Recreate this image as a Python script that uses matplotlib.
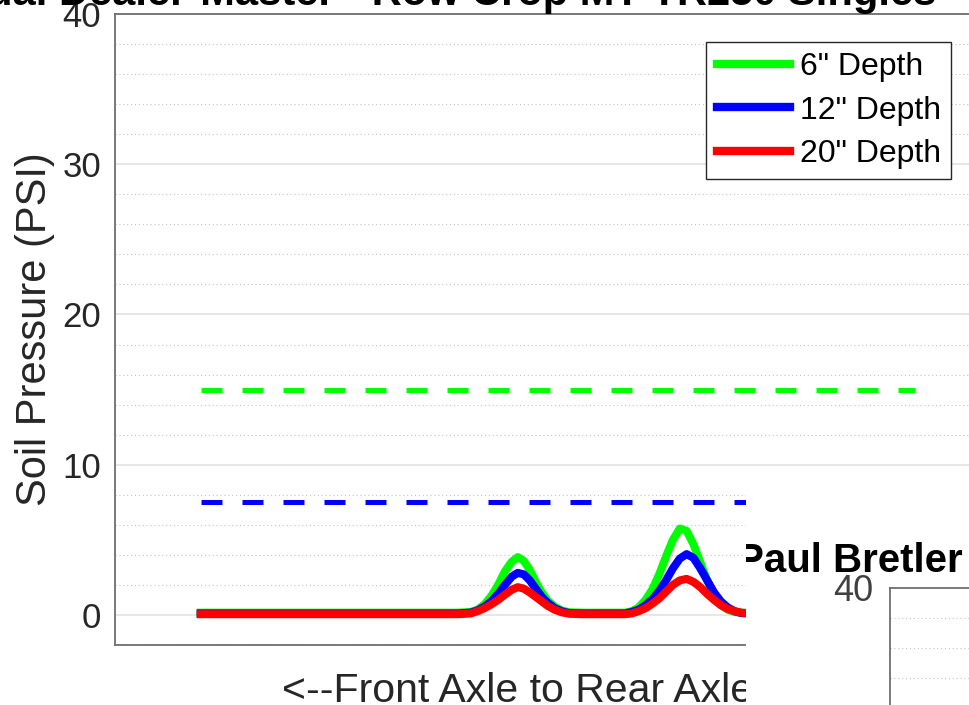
import matplotlib.pyplot as plt
from matplotlib.ticker import MultipleLocator

plt.rcParams['font.family'] = ['Liberation Sans', 'DejaVu Sans']

# Posición a lo largo de la máquina (eje delantero -> trasero)
pos = [10, 20, 30, 40, 41.5, 42.3, 43.1, 43.9, 44.7, 45.5, 46.3, 47.0, 47.7, 48.4,
       49.1, 49.8, 50.5, 51.3, 52.1, 53.0, 54.5, 57, 59.5, 60.3, 61.1, 61.9, 62.7,
       63.5, 64.3, 65.1, 65.9, 66.7, 67.5, 68.3, 69.1, 69.9, 70.7, 71.5, 72.3, 73.1, 74]

# Presión del suelo (PSI) por profundidad
p6 = [0.15, 0.15, 0.15, 0.15, 0.2, 0.35, 0.7, 1.25, 2.0, 2.9, 3.55, 3.85, 3.6, 3.0,
      2.2, 1.5, 0.95, 0.55, 0.3, 0.18, 0.15, 0.15, 0.15, 0.25, 0.5, 1.0, 1.7,
      2.7, 3.9, 5.0, 5.75, 5.6, 4.7, 3.5, 2.3, 1.3, 0.65, 0.35, 0.2, 0.15, 0.15]
p12 = [0.1, 0.1, 0.1, 0.1, 0.15, 0.3, 0.55, 0.9, 1.4, 2.0, 2.55, 2.8, 2.7, 2.3,
       1.75, 1.2, 0.8, 0.45, 0.25, 0.12, 0.1, 0.1, 0.1, 0.2, 0.35, 0.65, 1.05,
       1.6, 2.3, 3.1, 3.75, 4.05, 3.8, 3.1, 2.3, 1.5, 0.9, 0.5, 0.25, 0.12, 0.1]
p20 = [0.05, 0.05, 0.05, 0.05, 0.1, 0.25, 0.45, 0.7, 1.0, 1.35, 1.68, 1.85, 1.75, 1.5,
       1.2, 0.9, 0.6, 0.35, 0.18, 0.08, 0.05, 0.05, 0.05, 0.1, 0.25, 0.45, 0.75,
       1.1, 1.55, 2.0, 2.3, 2.4, 2.2, 1.85, 1.4, 1.0, 0.65, 0.4, 0.25, 0.15, 0.1]

# Límites de referencia (líneas discontinuas)
lim_x = [10, 93.3]
lim6 = 15
lim12 = 7.5

labels = ['6" Depth', '12" Depth', '20" Depth']
colores = ['#00ff00', '#0000ff', '#ff0000']

W, H = 969, 705
fig = plt.figure(figsize=(W / 100, H / 100), dpi=100)

# Ejes principales (se salen un poco por la derecha)
L, R, T, B = 115, 972, 14, 645
ax = fig.add_axes([L / W, 1 - B / H, (R - L) / W, (B - T) / H])
ax.set_xlim(0, 100)
ax.set_ylim(-2, 40)

ax.plot(lim_x, [lim6, lim6], color=colores[0], lw=3.6, dashes=(4.2, 4.0))
ax.plot(lim_x, [lim12, lim12], color=colores[1], lw=3.6, dashes=(4.2, 4.0))

for y, c, lab in zip([p6, p12, p20], colores, labels):
    ax.plot(pos, y, color=c, lw=5.8, solid_joinstyle='round', label=lab)

ax.set_yticks([0, 10, 20, 30, 40])
ax.yaxis.set_minor_locator(MultipleLocator(2))
ax.set_xticks([])
ax.tick_params(axis='y', which='both', length=0, pad=10, labelsize=25, labelcolor='#262626')
ax.grid(True, which='major', axis='y', color='#e3e3e3', lw=1.2)
ax.grid(True, which='minor', axis='y', color='#c4c4c4', lw=0.8, linestyle=(0, (1, 2.5)))
ax.set_axisbelow(True)
for s in ['left', 'top', 'bottom']:
    ax.spines[s].set_color('#6e6e6e')
    ax.spines[s].set_linewidth(1.3)
ax.spines['right'].set_visible(False)

ax.set_ylabel('Soil Pressure (PSI)', fontsize=30, color='#262626')
ax.yaxis.set_label_coords(-0.070, 0.5)
ax.set_xlabel('<--Front Axle to Rear Axle-->', fontsize=29.5, color='#262626')
ax.xaxis.set_label_coords(0.5, -0.042)

leg = ax.legend(loc='upper right', bbox_to_anchor=(951 / W, 1 - 42 / H),
                bbox_transform=fig.transFigure, borderaxespad=0, fontsize=23,
                handlelength=2.3, handletextpad=0.3, labelspacing=0.42,
                borderpad=0.32, fancybox=False, framealpha=1)
leg.get_frame().set_edgecolor('#262626')
leg.get_frame().set_linewidth(1.0)
for h in leg.get_lines():
    h.set_linewidth(6)

fig.text(936 / W, 1 - 5 / H, 'Dual Dealer-Master - Row Crop MT TR250 Singles',
         ha='right', va='baseline', fontsize=30, fontweight='bold')

# Segunda figura superpuesta abajo a la derecha
OX, OY = 746, 478
ov = fig.add_axes([OX / W, 0, (W - OX) / W, (H - OY) / H], zorder=5)
ov.set_facecolor('white')
ov.set_xticks([])
ov.set_yticks([])
for s in ov.spines.values():
    s.set_visible(False)
ov.text((737 - OX) / (W - OX), (H - 572) / (H - OY), 'Paul Bretler',
        ha='left', va='baseline', fontsize=29, fontweight='bold', clip_on=True)

IX, IT, IB = 890, 588, 905
ins = fig.add_axes([IX / W, 1 - IB / H, 0.3, (IB - IT) / H], zorder=6)
ins.set_ylim(40 - (IB - IT) / 15, 40)
ins.set_xlim(0, 1)
ins.set_yticks([40])
ins.yaxis.set_minor_locator(MultipleLocator(2))
ins.set_xticks([])
ins.tick_params(axis='y', which='both', length=0, pad=12, labelsize=26, labelcolor='#404040')
ins.grid(True, which='minor', axis='y', color='#c4c4c4', lw=0.8, linestyle=(0, (1, 2.5)))
for s in ['left', 'top']:
    ins.spines[s].set_color('#6e6e6e')
    ins.spines[s].set_linewidth(1.3)
ins.spines['right'].set_visible(False)
ins.spines['bottom'].set_visible(False)

fig.savefig('out.png', dpi=100)
